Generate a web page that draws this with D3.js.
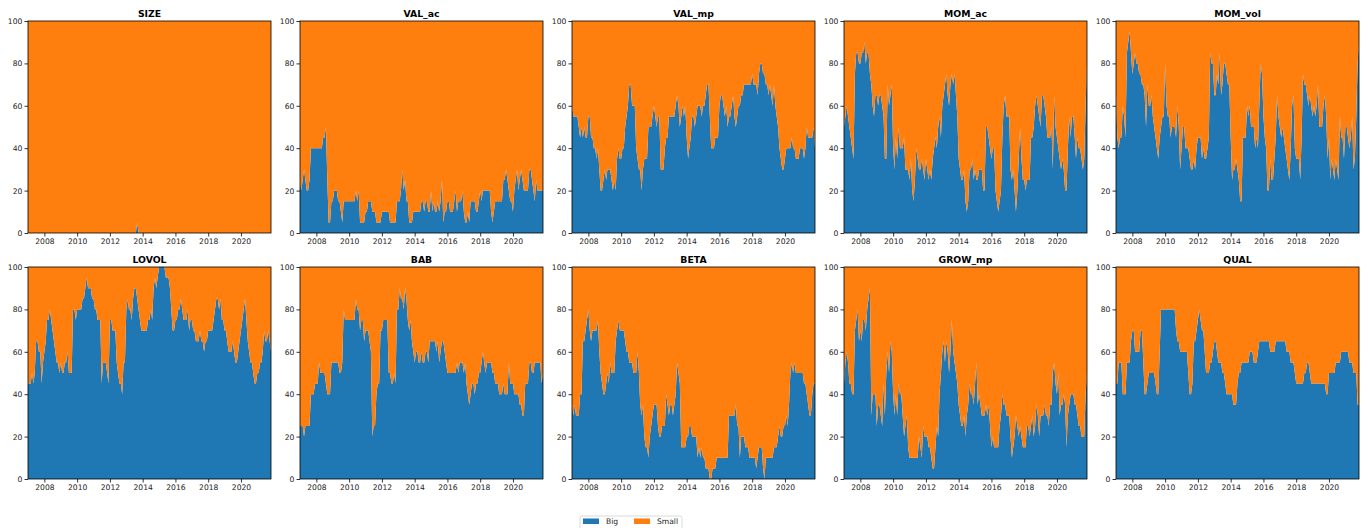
<!DOCTYPE html>
<html>
<head>
<meta charset="utf-8">
<script src="https://cdn.jsdelivr.net/npm/d3@7"></script>
<style>
  html, body { margin: 0; padding: 0; background: #fff; }
  svg { display: block; font-family: "DejaVu Sans", sans-serif; }
</style>
</head>
<body>
<svg id="chart" width="1368" height="528"></svg>
<script>
// Monthly share (%) of the "Big" leg for each factor, Jan 2007 .. Nov 2021.
// The "Small" leg is the complement (100 - Big).
const startMonth = new Date(2007, 0, 1);
const endMonthExclusive = new Date(2021, 11, 1);

const factorNames = ["SIZE", "VAL_ac", "VAL_mp", "MOM_ac", "MOM_vol",
                     "LOVOL", "BAB", "BETA", "GROW_mp", "QUAL"];
const seriesKeys = ["Big", "Small"];
const yTickValues = [0, 20, 40, 60, 80, 100];

const SIZE = [
  0,0,0,0,0,0,0,0,0,0,0,0,
  0,0,0,0,0,0,0,0,0,0,0,0,
  0,0,0,0,0,0,0,0,0,0,0,0,
  0,0,0,0,0,0,0,0,0,0,0,0,
  0,0,0,0,0,0,0,0,0,0,0,0,
  0,0,0,0,0,0,0,0,0,0,0,0,
  0,0,0,0,0,0,0,0,5,0,0,0,
  0,0,0,0,0,0,0,0,0,0,0,0,
  0,0,0,0,0,0,0,0,0,0,0,0,
  0,0,0,0,0,0,0,0,0,0,0,0,
  0,0,0,0,0,0,0,0,0,0,0,0,
  0,0,0,0,0,0,0,0,0,0,0,0,
  0,0,0,0,0,0,0,0,0,0,0,0,
  0,0,0,0,0,0,0,0,0,0,0,0,
  0,0,0,0,0,0,0,0,0,0,0
];

const VAL_ac = [
  25,20,25,30,25,20,20,25,40,40,40,40,
  40,40,40,40,40,45,45,50,25,5,5,15,
  15,20,20,20,15,15,10,5,15,15,15,15,
  15,15,15,15,15,20,15,20,5,5,5,5,
  10,10,15,15,15,10,10,10,5,5,5,5,
  10,10,10,10,10,10,5,5,5,5,5,15,
  15,15,20,30,20,25,15,15,5,5,5,10,
  10,10,10,10,10,15,15,10,15,15,10,10,
  20,10,15,10,10,15,10,15,25,5,10,10,
  15,15,10,10,10,15,20,10,15,15,15,20,
  10,5,5,10,5,15,15,15,15,10,10,15,
  20,15,20,20,20,20,20,20,10,5,10,15,
  15,15,15,15,15,25,25,30,25,20,15,15,
  10,20,25,30,20,25,30,25,20,20,20,20,
  30,30,25,20,15,25,20,20,20,20,20
];

const VAL_mp = [
  60,55,55,55,55,50,45,50,45,50,45,45,
  55,55,45,45,40,40,35,40,30,20,20,25,
  30,25,30,30,30,25,20,25,20,35,40,35,
  35,40,40,50,55,60,70,70,60,60,60,40,
  35,30,30,20,30,35,35,35,50,50,50,55,
  60,55,50,55,55,30,30,30,40,45,45,55,
  55,55,55,55,60,65,60,50,55,60,55,60,
  45,35,40,45,55,55,50,55,60,60,60,55,
  60,60,65,70,70,55,40,40,40,45,45,45,
  60,65,65,60,55,60,50,55,55,60,65,55,
  50,55,60,60,65,65,70,70,70,70,70,70,
  75,70,70,70,65,75,80,80,75,75,70,70,
  65,70,65,60,70,60,55,50,40,35,30,30,
  35,40,40,40,40,45,40,40,35,35,35,40,
  40,40,35,40,50,45,45,45,45,50,40
];

const MOM_ac = [
  50,55,60,55,50,45,40,35,75,85,85,80,
  80,85,85,90,80,85,85,75,70,60,55,65,
  65,60,65,65,60,55,35,35,70,60,65,70,
  40,30,45,35,50,40,40,40,45,30,30,30,
  25,35,20,15,25,40,35,30,30,35,30,25,
  35,30,25,30,25,35,40,45,40,50,55,45,
  60,65,70,75,65,60,70,75,70,75,65,55,
  35,30,25,25,30,15,10,15,30,30,35,25,
  30,25,25,30,30,30,20,20,50,50,45,40,
  35,40,40,20,15,10,15,20,45,60,65,55,
  55,55,30,25,30,20,10,20,35,50,35,25,
  25,20,25,25,25,45,45,50,60,65,60,55,
  50,65,65,60,55,45,45,45,50,30,65,50,
  45,40,35,30,35,30,20,20,40,55,45,55,
  55,45,35,45,40,40,35,30,35,60,80
];

const MOM_vol = [
  65,45,40,45,45,60,55,45,85,90,95,85,
  75,80,85,80,80,75,75,70,70,65,50,70,
  60,60,65,55,50,45,40,35,45,50,55,55,
  80,60,55,55,45,50,50,50,45,60,50,30,
  40,50,50,40,40,40,35,30,30,35,30,40,
  45,45,45,35,40,35,35,40,45,85,80,80,
  65,65,75,70,85,65,70,80,80,75,70,70,
  45,25,30,30,35,30,25,15,15,45,45,45,
  60,55,60,50,50,50,40,45,40,60,80,75,
  55,45,40,20,20,35,25,25,35,45,65,55,
  50,45,50,45,40,35,30,25,40,60,65,40,
  35,35,35,25,45,75,70,70,65,60,65,60,
  55,60,55,60,70,50,50,50,60,65,55,35,
  45,25,35,30,25,35,30,25,55,45,45,35,
  50,50,45,40,45,55,30,35,55,80,90
];

const LOVOL = [
  45,45,45,50,45,50,65,65,60,60,45,55,
  60,65,75,75,80,75,70,65,60,55,55,50,
  55,50,50,55,55,60,50,50,50,80,80,75,
  80,80,80,80,85,85,90,95,90,90,90,85,
  85,80,80,75,75,75,45,55,55,55,50,45,
  75,75,70,70,70,55,50,45,45,40,55,55,
  80,85,80,80,75,85,90,90,85,80,75,70,
  70,70,70,70,75,75,80,75,90,95,90,95,
  100,100,100,100,100,95,95,95,90,80,70,70,
  75,75,80,80,85,80,75,75,75,80,70,75,
  75,70,70,65,65,65,70,65,65,60,65,65,
  70,70,70,70,75,80,85,85,80,85,75,75,
  70,70,65,60,60,60,65,60,55,55,60,65,
  70,75,80,85,75,65,60,55,55,50,45,45,
  50,50,55,55,60,70,65,65,70,65,60
];

const BAB = [
  25,25,25,20,25,25,25,25,40,40,40,45,
  45,45,55,50,50,50,50,45,40,40,40,55,
  55,55,55,55,55,50,50,55,80,75,75,75,
  75,75,75,75,75,85,80,80,70,75,75,65,
  70,70,70,65,60,20,25,25,40,45,45,70,
  70,75,75,75,75,50,50,45,45,50,45,80,
  80,90,85,85,80,90,85,75,70,75,65,60,
  55,60,60,55,55,60,55,55,60,60,55,65,
  65,65,65,65,60,65,55,60,65,65,60,55,
  50,50,50,50,50,50,50,55,50,55,55,55,
  50,55,45,40,35,40,45,45,40,45,45,50,
  50,55,60,55,50,55,55,55,55,50,50,45,
  45,45,40,40,40,45,40,40,40,55,45,45,
  45,40,40,40,40,35,35,30,30,45,45,45,
  55,55,50,50,55,55,55,55,55,45,50
];

const BETA = [
  35,30,35,30,30,30,40,40,65,65,70,75,
  80,70,65,70,70,70,70,75,60,50,45,40,
  40,45,50,45,55,50,50,50,65,70,75,70,
  70,70,70,65,60,60,55,55,55,50,50,50,
  60,50,35,30,35,20,15,15,10,20,25,30,
  35,35,35,25,20,20,25,25,25,40,35,30,
  35,35,30,35,40,55,50,45,15,15,15,15,
  20,20,25,25,20,20,20,20,10,15,10,15,
  10,10,5,5,5,0,0,5,5,5,10,10,
  10,10,10,10,10,10,10,30,30,30,30,30,
  35,25,25,10,20,20,20,15,15,15,10,10,
  10,10,10,5,10,15,15,15,5,0,10,10,
  10,10,10,10,15,15,15,20,25,20,20,25,
  25,30,25,35,50,55,50,55,50,50,50,50,
  50,50,45,45,40,35,30,30,40,45,45
];

const GROW_mp = [
  45,55,60,55,45,45,40,40,70,75,80,65,
  70,65,75,75,70,80,85,90,30,40,40,40,
  25,35,35,30,25,45,30,50,60,50,65,60,
  40,30,40,30,45,40,40,30,20,25,30,15,
  10,10,10,10,10,10,10,20,15,10,25,20,
  20,20,15,15,10,5,5,15,25,20,40,50,
  60,65,55,65,60,50,60,75,60,55,50,45,
  35,30,25,25,30,20,30,35,45,40,40,35,
  45,55,35,40,35,30,30,30,35,30,35,25,
  15,20,15,15,15,15,25,30,40,35,35,30,
  30,30,20,10,15,20,30,25,20,25,20,15,
  15,15,25,25,20,25,30,20,25,35,30,20,
  30,30,30,35,30,30,25,35,35,50,55,45,
  40,50,30,35,35,40,35,15,30,35,40,40,
  40,35,35,30,25,25,20,20,20,40,50
];

const QUAL = [
  45,45,55,55,55,40,40,40,55,55,55,65,
  70,70,60,60,60,60,70,70,55,40,40,45,
  50,50,50,50,50,45,40,40,60,80,80,80,
  80,80,80,80,80,80,80,80,70,65,65,60,
  60,60,60,60,60,50,40,40,45,65,65,70,
  75,80,75,70,70,60,50,50,50,55,55,60,
  65,65,60,55,55,55,50,50,45,40,40,40,
  40,40,35,35,35,45,50,50,55,55,55,55,
  55,55,60,60,60,55,55,55,60,65,65,65,
  65,65,65,65,65,60,60,60,60,65,65,65,
  65,65,65,65,65,60,60,60,55,55,55,50,
  45,45,45,45,45,45,50,50,55,55,50,45,
  45,45,45,45,45,45,45,45,45,45,40,40,
  50,50,50,50,50,55,55,55,55,60,60,60,
  60,60,60,55,55,55,50,50,50,35,35
];

const bigShares = [SIZE, VAL_ac, VAL_mp, MOM_ac, MOM_vol,
                   LOVOL, BAB, BETA, GROW_mp, QUAL];

// ---- layout ----
const colors = { Big: "#1f77b4", Small: "#ff7f0e" };
const panelW = 243, panelH = 212;
const panelLefts = [28, 300, 572, 844, 1116];
const panelTops = [21, 267];
const tickFont = 7.6, titleFont = 9.3;

const months = d3.timeMonth.range(startMonth, endMonthExclusive);

const x = d3.scaleTime()
  .domain([months[0], months[months.length - 1]])
  .range([0, panelW]);
const y = d3.scaleLinear().domain([0, 100]).range([panelH, 0]);

const stack = d3.stack().keys(seriesKeys);
const area = d3.area()
  .x(d => x(d.data.date))
  .y0(d => y(d[0]))
  .y1(d => y(d[1]));

const svg = d3.select("#chart");

factorNames.forEach((name, i) => {
  const row = Math.floor(i / 5), col = i % 5;
  const g = svg.append("g")
    .attr("transform", `translate(${panelLefts[col]},${panelTops[row]})`);

  const rows = months.map((date, k) => ({
    date,
    Big: bigShares[i][k],
    Small: 100 - bigShares[i][k]
  }));
  const layers = stack(rows);

  g.selectAll("path.layer")
    .data(layers)
    .join("path")
    .attr("class", "layer")
    .attr("fill", d => colors[d.key])
    .attr("d", area);

  // y axis
  const yAxis = g.append("g")
    .call(d3.axisLeft(y).tickValues(yTickValues).tickSize(3.5).tickPadding(2.2));
  yAxis.select(".domain").remove();
  yAxis.selectAll("line").attr("stroke", "#000").attr("stroke-width", 0.8);
  yAxis.selectAll("text").attr("font-size", tickFont).attr("fill", "#222")
    .attr("font-family", "DejaVu Sans, sans-serif");

  // x axis
  const xAxis = g.append("g")
    .attr("transform", `translate(0,${panelH})`)
    .call(d3.axisBottom(x).ticks(d3.timeYear.every(2))
      .tickFormat(d3.timeFormat("%Y")).tickSize(3.5).tickPadding(2));
  xAxis.select(".domain").remove();
  xAxis.selectAll("line").attr("stroke", "#000").attr("stroke-width", 0.8);
  xAxis.selectAll("text").attr("font-size", tickFont).attr("fill", "#222")
    .attr("font-family", "DejaVu Sans, sans-serif");

  // frame
  g.append("rect")
    .attr("x", 0).attr("y", 0)
    .attr("width", panelW).attr("height", panelH)
    .attr("fill", "none").attr("stroke", "#000").attr("stroke-width", 0.8);

  // title
  g.append("text")
    .attr("x", panelW / 2).attr("y", -4.5)
    .attr("text-anchor", "middle")
    .attr("font-size", titleFont).attr("font-weight", "bold")
    .attr("fill", "#000")
    .text(name);
});

// ---- legend ----
const legend = svg.append("g").attr("transform", "translate(580,516)");
legend.append("rect")
  .attr("x", 0).attr("y", 0).attr("width", 102).attr("height", 18)
  .attr("rx", 2).attr("fill", "#fff")
  .attr("stroke", "#d0d0d0").attr("stroke-width", 0.8);
const legendX = [3, 54];
seriesKeys.forEach((key, k) => {
  legend.append("rect")
    .attr("x", legendX[k]).attr("y", 2.5)
    .attr("width", 16).attr("height", 5.5)
    .attr("fill", colors[key]);
  legend.append("text")
    .attr("x", legendX[k] + 23).attr("y", 8.3)
    .attr("font-size", tickFont).attr("fill", "#222")
    .text(key);
});
</script>
</body>
</html>
